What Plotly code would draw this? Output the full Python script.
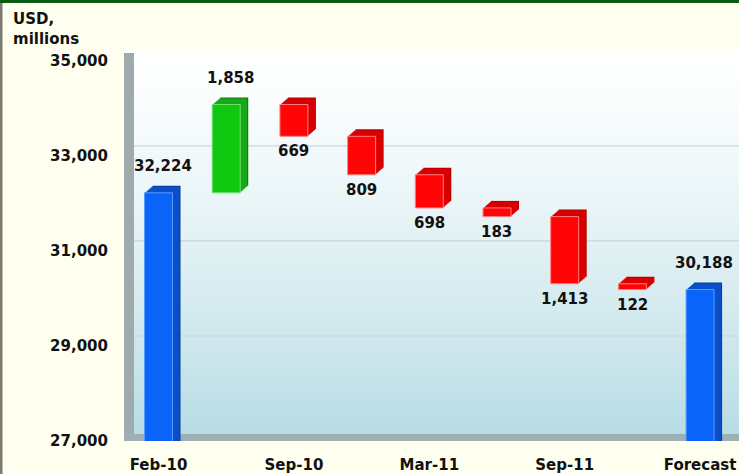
import plotly.graph_objects as go

# ---- data ----
categories = ["Feb-10", "", "Sep-10", "", "Mar-11", "", "Sep-11", "", "Forecast"]
start_value = 32224
changes = [1858, -669, -809, -698, -183, -1413, -122]
forecast_value = 30188
y_ticks = [27000, 29000, 31000, 33000, 35000]
y_title = "USD,<br>millions"

# ---- derived waterfall geometry (from data) ----
bases, vals, kinds = [0], [start_value], ["total"]
running = start_value
for c in changes:
    bases.append(running)
    vals.append(c)
    kinds.append("up" if c > 0 else "down")
    running += c
bases.append(0)
vals.append(forecast_value)
kinds.append("total")
xs = list(range(len(categories)))

front_col = {"total": "#0a64fa", "up": "#10c810", "down": "#ff0505"}
back_col = {"total": "#0a3c9c", "up": "#0a780a", "down": "#b40000"}
top_col = {"total": "#0b4fc8", "up": "#18a818", "down": "#d80000"}
edge_col = {"total": "#5a9cff", "up": "#70e070", "down": "#ff8080"}

W, H = 739, 474
L, R, T, B = 124, 0, 50, 33
x_range = [-0.51, 8.575]
y_range = [27000, 35230]
px_per_x = (W - L - R) / (x_range[1] - x_range[0])
units_per_py = (y_range[1] - y_range[0]) / (H - T - B)

bw = 28 / px_per_x          # front face width
dx = 8 / px_per_x           # depth offset right
dy = 7 * units_per_py       # depth offset up
wall_dy = 10 * units_per_py

fig = go.Figure()
# extruded depth: layered boxes from back to front
STEPS = 8
for s in range(STEPS, 0, -1):
    f = s / STEPS
    cols = [back_col[k] if s == STEPS else top_col[k] for k in kinds]
    fig.add_trace(go.Bar(
        x=xs, y=vals, base=[b + dy * f for b in bases],
        width=bw, offset=-bw / 2 + dx * f,
        marker=dict(color=cols, line=dict(width=0)),
        hoverinfo="skip", showlegend=False,
    ))
fig.add_trace(go.Bar(
    x=xs, y=vals, base=bases,
    width=bw, offset=-bw / 2,
    marker=dict(color=[front_col[k] for k in kinds],
                line=dict(color=[edge_col[k] for k in kinds], width=1)),
    showlegend=False,
))

# value labels
for i, (b, v, k) in enumerate(zip(bases, vals, kinds)):
    top = b + v
    if v > 0:
        fig.add_annotation(x=i, y=top, text=f"<b>{abs(v):,}</b>", showarrow=False,
                           yshift=27, xshift=4, font=dict(size=15, color="#111"))
    else:
        fig.add_annotation(x=i, y=top, text=f"<b>{abs(v):,}</b>", showarrow=False,
                           yshift=-15, font=dict(size=15, color="#111"))

# background gradient bands inside plot area
N = 48
c0 = (255, 255, 255)
c1 = (182, 220, 228)
for j in range(N):
    t = (j + 0.5) / N  # from top
    f = t ** 1.3
    col = tuple(round(c0[m] + (c1[m] - c0[m]) * f) for m in range(3))
    fig.add_shape(type="rect", xref="x domain", yref="y domain",
                  x0=0, x1=1, y0=1 - (j + 1) / N, y1=1 - j / N + 0.002,
                  fillcolor="rgb(%d,%d,%d)" % col, line_width=0, layer="below")

# gridlines on back wall (shifted for depth)
for t in y_ticks[1:-1]:
    fig.add_shape(type="line", xref="x domain", yref="y",
                  x0=10 / (W - L - R), x1=1, y0=t + wall_dy, y1=t + wall_dy,
                  line=dict(color="#c9d6da", width=1.2), layer="below")

# left wall and floor
fig.add_shape(type="rect", xref="x domain", yref="y domain",
              x0=0, x1=10 / (W - L - R), y0=0, y1=1 - 3 / (H - T - B),
              fillcolor="#9eaaab", line_width=0, layer="below")
fig.add_shape(type="rect", xref="x domain", yref="y domain",
              x0=0, x1=1, y0=0, y1=7 / (H - T - B),
              fillcolor="#9fb0b4", line_width=0, layer="below")

# figure borders (paper coords)
pw, ph = W - L - R, H - T - B
fig.add_shape(type="rect", xref="paper", yref="paper",
              x0=-L / pw, x1=(W - L) / pw, y0=1 + (T - 3) / ph, y1=1 + T / ph,
              fillcolor="#0b5c12", line_width=0)
fig.add_shape(type="rect", xref="paper", yref="paper",
              x0=-L / pw, x1=(-L + 2.5) / pw, y0=-B / ph, y1=1 + (T - 3) / ph,
              fillcolor="#7b7b73", line_width=0)

fig.add_annotation(xref="paper", yref="paper", x=(11 - L) / pw, y=1 + (T - 8) / ph,
                   xanchor="left", yanchor="top", align="left", showarrow=False,
                   text="<b>" + y_title + "</b>", font=dict(size=15, color="#111"))

fig.update_layout(
    width=W, height=H,
    margin=dict(l=L, r=R, t=T, b=B, pad=0),
    paper_bgcolor="#fffff0",
    plot_bgcolor="#ffffff",
    barmode="overlay",
    font=dict(family="DejaVu Sans", color="#111"),
    xaxis=dict(range=x_range, tickvals=[0, 2, 4, 6, 8],
               ticktext=[categories[i] for i in [0, 2, 4, 6, 8]],
               showgrid=False, zeroline=False, showline=False, ticks="",
               ticklabelstandoff=13,
               tickfont=dict(size=15, weight="bold", color="#111")),
    yaxis=dict(range=y_range, tickvals=y_ticks,
               ticktext=[f"{v:,}" for v in y_ticks],
               showgrid=False, zeroline=False, showline=False, ticks="",
               ticklabelstandoff=15,
               tickfont=dict(size=15, weight="bold", color="#111")),
)

fig.write_html("out.html",
               config={"displayModeBar": False},
               post_script="document.body.style.margin='0';document.body.style.overflow='hidden';")
